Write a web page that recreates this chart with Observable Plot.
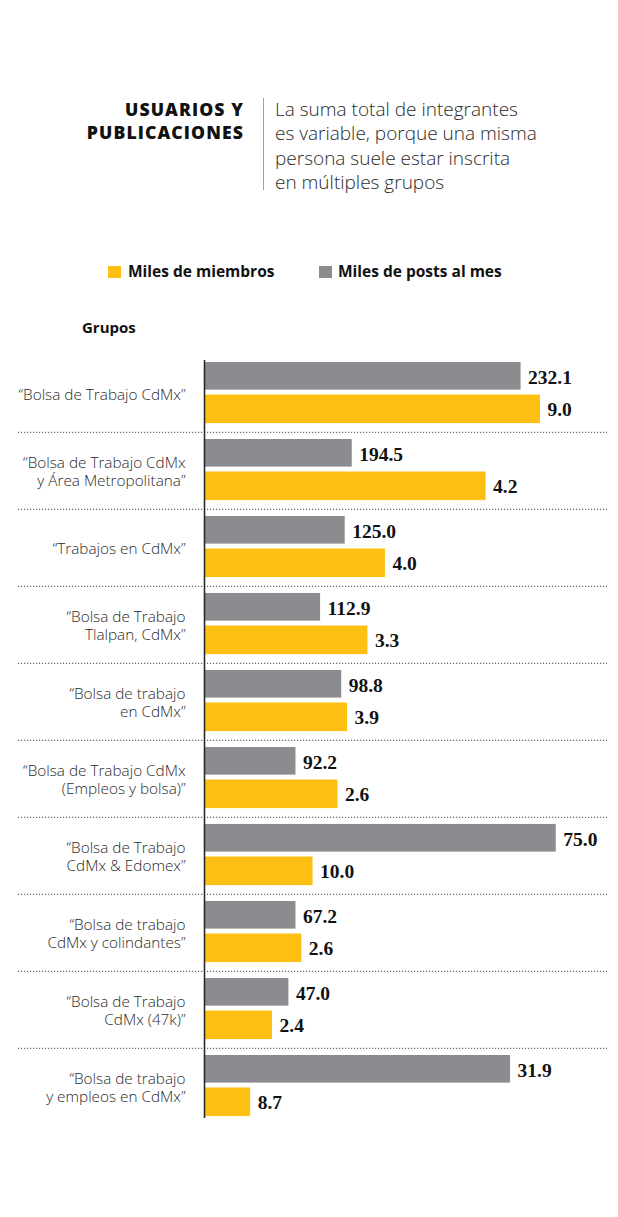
<!DOCTYPE html>
<html lang="es">
<head>
<meta charset="utf-8">
<script src="https://cdn.jsdelivr.net/npm/d3@7"></script>
<script src="https://cdn.jsdelivr.net/npm/@observablehq/plot@0.6"></script>
<style>
  body { margin: 0; background: #fff; }
  #page { position: relative; width: 618px; height: 1217px; overflow: hidden;
          font-family: "Open Sans", sans-serif; color: #222; }
  .abs { position: absolute; white-space: nowrap; }
  #title { right: 374px; top: 97.5px; font-size: 17.6px; line-height: 23px; font-weight: 800;
           letter-spacing: 1.1px; text-align: right; color: #111; }
  #divider { left: 262.5px; top: 98px; width: 1px; height: 92px; background: #a0a0a0; }
  #subtitle { left: 275px; top: 96.8px; font-size: 19px; line-height: 24.4px; font-weight: 300; color: #2a2a2a; }
  .swatch { width: 13px; height: 12px; top: 266px; }
  .legend-label { top: 261px; font-size: 15.5px; line-height: 20px; font-weight: 700; color: #111; }
  #groups-label { left: 82px; top: 317.2px; font-size: 15px; line-height: 20px; font-weight: 700; color: #111; }
  #chart { left: 0; top: 330px; }
</style>
</head>
<body>
<div id="page">
  <div id="title" class="abs">USUARIOS Y<br>PUBLICACIONES</div>
  <div id="divider" class="abs"></div>
  <div id="subtitle" class="abs">La suma total de integrantes<br>es variable, porque una misma<br>persona suele estar inscrita<br>en múltiples grupos</div>

  <div class="abs swatch" style="left:108px;background:#fcbf12"></div>
  <div class="abs legend-label" style="left:128px">Miles de miembros</div>
  <div class="abs swatch" style="left:319px;background:#8b8c90"></div>
  <div class="abs legend-label" style="left:338px">Miles de posts al mes</div>

  <div id="groups-label" class="abs">Grupos</div>
  <div id="chart" class="abs"></div>
</div>
<script>
// Facebook job-board groups, top to bottom
const groups = [
  "“Bolsa de Trabajo CdMx”",
  "“Bolsa de Trabajo CdMx\ny Área Metropolitana”",
  "“Trabajos en CdMx”",
  "“Bolsa de Trabajo\nTlalpan, CdMx”",
  "“Bolsa de trabajo\nen CdMx”",
  "“Bolsa de Trabajo CdMx\n(Empleos y bolsa)”",
  "“Bolsa de Trabajo\nCdMx & Edomex”",
  "“Bolsa de trabajo\nCdMx y colindantes”",
  "“Bolsa de Trabajo\nCdMx (47k)”",
  "“Bolsa de trabajo\ny empleos en CdMx”"
];
// Thousands of members per group
const members = [232.1, 194.5, 125.0, 112.9, 98.8, 92.2, 75.0, 67.2, 47.0, 31.9];
// Thousands of posts per month per group
const posts = [9.0, 4.2, 4.0, 3.3, 3.9, 2.6, 10.0, 2.6, 2.4, 8.7];

const YELLOW = "#fcbf12";
const GREY = "#8b8c90";

// Posts run on their own, wider scale laid along the member axis
const POSTS_STRETCH = 24.3;

const rows = groups.map((group, i) => ({
  group,
  members: members[i],
  posts: posts[i],
  postsX: posts[i] * POSTS_STRETCH
}));

const fmt = d3.format(".1f");
const BAND = 77.4;

const valueText = {
  fontFamily: "'Liberation Serif', 'Times New Roman', serif",
  fontWeight: "bold",
  fontSize: 19.5,
  fill: "#111",
  textAnchor: "start",
  dx: 7
};

const chart = Plot.plot({
  width: 618,
  height: 23 + BAND * groups.length + 10,
  marginLeft: 204,
  marginRight: 0,
  marginTop: 23,
  marginBottom: 10,
  style: { background: "transparent", overflow: "visible" },
  x: { domain: [0, 286], axis: null },
  y: { domain: groups, padding: 0, axis: null },
  marks: [
    // dotted separators between groups
    Plot.ruleY(groups.slice(1), {
      y: d => d, dy: -BAND / 2,
      insetLeft: -186, insetRight: 11,
      stroke: "#444", strokeWidth: 1, strokeDasharray: "1.2,1.8"
    }),
    // posts (grey, upper bar)
    Plot.barX(rows, {
      y: "group", x: "postsX", fill: GREY,
      insetTop: 7, insetBottom: BAND - 35
    }),
    // members (yellow, lower bar)
    Plot.barX(rows, {
      y: "group", x: "members", fill: YELLOW,
      insetTop: 39.5, insetBottom: BAND - 68.5
    }),
    // baseline
    Plot.ruleX([0], { stroke: "#2b2b2b", strokeWidth: 1.6, insetTop: 7, insetBottom: 9 }),
    // value labels
    Plot.text(rows, {
      ...valueText, y: "group", x: "postsX", text: d => fmt(d.members), dy: -16.1
    }),
    Plot.text(rows, {
      ...valueText, y: "group", x: "members", text: d => fmt(d.posts), dy: 15.9
    }),
    // group names
    Plot.text(rows, {
      y: "group", x: () => 0, text: "group",
      textAnchor: "end", dx: -19, lineHeight: 1.22,
      fontFamily: "'Open Sans', sans-serif", fontWeight: 300, fontSize: 15.3,
      fill: "#2a2a2a"
    })
  ]
});

chart.querySelectorAll("text").forEach(t => {
  if (t.getAttribute("font-family") && t.getAttribute("font-family").includes("Liberation Serif")) {
    t.setAttribute("letter-spacing", "-0.4");
  }
});

document.getElementById("chart").appendChild(chart);
</script>
</body>
</html>
